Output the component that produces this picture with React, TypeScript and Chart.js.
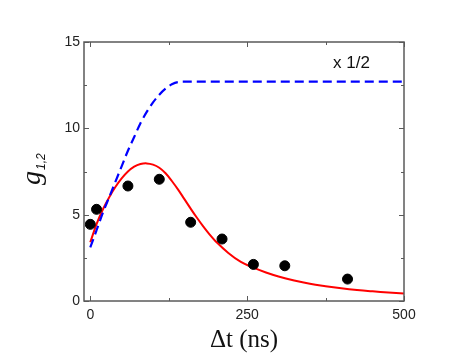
import React, { useEffect, useRef } from "react";
import { Chart, registerables } from "chart.js";

Chart.register(...registerables);

const pointX = [0, 10, 60, 110, 160, 210, 260, 310, 410];
const pointY = [4.44, 5.31, 6.66, 7.05, 4.56, 3.59, 2.12, 2.04, 1.27];

const redX = [0, 10, 20, 30, 40, 50, 60, 70, 80, 90, 100, 110, 120, 130, 140, 150, 160, 170, 180, 190, 200, 220, 240, 260, 280, 300, 325, 350, 375, 400, 425, 450, 475, 500];
const redY = [3.4, 4.45, 5.3, 6.0, 6.6, 7.1, 7.5, 7.78, 7.93, 7.97, 7.9, 7.72, 7.4, 6.95, 6.45, 5.9, 5.35, 4.82, 4.32, 3.86, 3.45, 2.78, 2.26, 1.93, 1.65, 1.42, 1.19, 1.0, 0.86, 0.74, 0.64, 0.56, 0.49, 0.43];

const blueX = [0, 10, 20, 30, 40, 50, 60, 70, 80, 90, 100, 110, 120, 130, 140, 150, 500];
const blueY = [3.1, 4.1, 5.1, 6.0, 6.9, 7.8, 8.7, 9.5, 10.3, 10.95, 11.5, 11.95, 12.3, 12.55, 12.68, 12.7, 12.7];

const xTickLabels = [0, 250, 500];
const xMinorTicks = [125, 375];
const yTickLabels = [0, 5, 10, 15];
const yMinorTicks = [2.5, 7.5, 12.5];

const annotationText = "x 1/2";
const xTitle = "\u0394t (ns)";
const yTitleMain = "g";
const yTitleSub = "1,2";

const AXIS_COLOR = "#5a5a5a";

const decorPlugin = {
  id: "decor",
  afterDraw(chart: any) {
    const { ctx, chartArea } = chart;
    const xs = chart.scales.x;
    const ys = chart.scales.y;
    const { left, right, top, bottom } = chartArea;
    ctx.save();
    ctx.strokeStyle = AXIS_COLOR;
    ctx.lineWidth = 1;
    const xt = (v: number, len: number) => {
      const px = Math.round(xs.getPixelForValue(v)) + 0.5;
      ctx.beginPath();
      ctx.moveTo(px, bottom);
      ctx.lineTo(px, bottom - len);
      ctx.moveTo(px, top);
      ctx.lineTo(px, top + len);
      ctx.stroke();
    };
    const yt = (v: number, len: number) => {
      const py = Math.round(ys.getPixelForValue(v)) + 0.5;
      ctx.beginPath();
      ctx.moveTo(left, py);
      ctx.lineTo(left + len, py);
      ctx.moveTo(right, py);
      ctx.lineTo(right - len, py);
      ctx.stroke();
    };
    xTickLabels.forEach((v) => xt(v, 5));
    xMinorTicks.forEach((v) => xt(v, 3));
    yTickLabels.forEach((v) => yt(v, 5));
    yMinorTicks.forEach((v) => yt(v, 3));
    ctx.lineWidth = 1.5;
    ctx.strokeRect(left, top, right - left, bottom - top);

    ctx.fillStyle = "#111";
    ctx.font = "17px 'Liberation Sans', Arial, sans-serif";
    ctx.textAlign = "left";
    ctx.textBaseline = "middle";
    ctx.fillText(annotationText, 333, 63);

    ctx.font = "25px 'Liberation Serif', 'Times New Roman', serif";
    ctx.textAlign = "center";
    ctx.textBaseline = "alphabetic";
    ctx.fillText(xTitle, (left + right) / 2, 347);

    ctx.translate(40, 185);
    ctx.rotate(-Math.PI / 2);
    ctx.textAlign = "left";
    ctx.font = "italic 28px 'Liberation Serif', 'Times New Roman', serif";
    ctx.fillText(yTitleMain, 0, 0);
    const gw = ctx.measureText(yTitleMain).width;
    ctx.font = "italic 12px 'Liberation Sans', Arial, sans-serif";
    ctx.fillText(yTitleSub, gw + 1, 5);
    ctx.restore();
  },
};

export default function App() {
  const ref = useRef<HTMLCanvasElement | null>(null);
  useEffect(() => {
    document.body.style.margin = "0";
    const canvas = ref.current;
    if (!canvas) return;
    const chart = new Chart(canvas, {
      type: "line",
      data: {
        datasets: [
          {
            type: "scatter",
            data: pointX.map((x, i) => ({ x, y: pointY[i] })),
            backgroundColor: "#000",
            borderColor: "#000",
            pointRadius: 5,
            pointHoverRadius: 5,
            showLine: false,
          } as any,
          {
            type: "line",
            data: blueX.map((x, i) => ({ x, y: blueY[i] })),
            borderColor: "#0000ff",
            borderWidth: 2.2,
            borderDash: [9, 5],
            pointRadius: 0,
            cubicInterpolationMode: "monotone",
            fill: false,
          },
          {
            type: "line",
            data: redX.map((x, i) => ({ x, y: redY[i] })),
            borderColor: "#ff0000",
            borderWidth: 2,
            pointRadius: 0,
            tension: 0.4,
            fill: false,
          },
        ],
      },
      options: {
        responsive: false,
        animation: false,
        events: [],
        layout: { padding: { left: 0, top: 42, right: 65, bottom: 0 } },
        plugins: { legend: { display: false }, tooltip: { enabled: false } },
        scales: {
          x: {
            type: "linear",
            min: -10,
            max: 500,
            afterBuildTicks: (s: any) => {
              s.ticks = xTickLabels.map((v) => ({ value: v }));
            },
            afterFit: (s: any) => {
              s.height = 61;
            },
            grid: { display: false, drawTicks: false },
            border: { display: false },
            ticks: {
              color: "#222",
              font: { size: 14, family: "'Liberation Sans', Arial, sans-serif" },
              padding: 6,
              maxRotation: 0,
              autoSkip: false,
              callback: (v: any) => String(v),
            },
          },
          y: {
            type: "linear",
            min: 0,
            max: 15,
            afterBuildTicks: (s: any) => {
              s.ticks = yTickLabels.map((v) => ({ value: v }));
            },
            afterFit: (s: any) => {
              s.width = 84;
            },
            grid: { display: false, drawTicks: false },
            border: { display: false },
            ticks: {
              color: "#222",
              font: { size: 14, family: "'Liberation Sans', Arial, sans-serif" },
              padding: 4,
              autoSkip: false,
              callback: (v: any) => String(v),
            },
          },
        },
      },
      plugins: [decorPlugin],
    });
    return () => chart.destroy();
  }, []);
  return (
    <div style={{ width: 469, height: 362 }}>
      <canvas ref={ref} width={469} height={362} style={{ display: "block" }} />
    </div>
  );
}
